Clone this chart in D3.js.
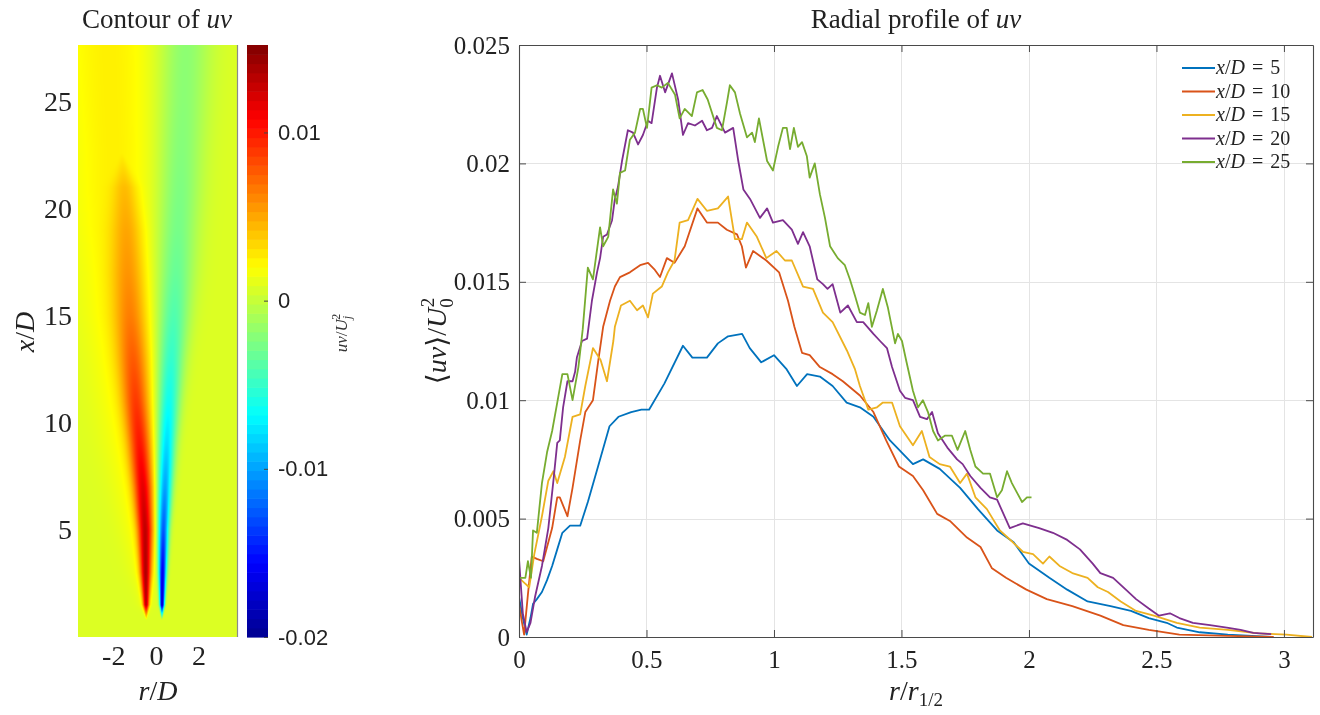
<!DOCTYPE html>
<html><head><meta charset="utf-8">
<script src="https://cdn.jsdelivr.net/npm/d3@7"></script>
<style>
body{margin:0;background:#fff;}
#wrap{position:relative;width:1320px;height:715px;overflow:hidden;background:#fff;}
#wrap canvas{position:absolute;}
#wrap svg{position:absolute;left:0;top:0;}
</style></head><body><div id="wrap"></div>
<script>
// ---------------- Radial profile data: [r/r_1/2, <uv>/U0^2] ----------------
const profile5 = [[0,0.0017],[0.015,0.0008],[0.03,0.0001],[0.045,0.0008],[0.055,0.0014],[0.07,0.0016],[0.09,0.0019],[0.11,0.0024],[0.13,0.003],[0.15,0.0037],[0.17,0.0044],[0.2,0.0047],[0.24,0.0047],[0.27,0.0057],[0.31,0.0072],[0.355,0.0089],[0.39,0.0093],[0.44,0.0095],[0.48,0.0096],[0.51,0.0096],[0.57,0.0107],[0.643,0.0123],[0.68,0.0118],[0.737,0.0118],[0.78,0.0124],[0.82,0.0127],[0.875,0.0128],[0.905,0.0122],[0.95,0.0116],[1.0,0.0119],[1.05,0.0113],[1.09,0.0106],[1.13,0.0111],[1.18,0.011],[1.23,0.0106],[1.285,0.0099],[1.337,0.0097],[1.39,0.0093],[1.455,0.0083],[1.545,0.0073],[1.585,0.0075],[1.65,0.0071],[1.73,0.0063],[1.8,0.0054],[1.875,0.0045],[1.94,0.004],[2.0,0.0031],[2.08,0.0025],[2.15,0.002],[2.23,0.0015],[2.32,0.0013],[2.4,0.0011],[2.47,0.0008],[2.54,0.0006],[2.58,0.0004],[2.67,0.0002],[2.78,0.0001],[2.95,0.0]];
const profile10 = [[0,0.0014],[0.012,0.0006],[0.02,0.0001],[0.035,0.0018],[0.05,0.0034],[0.07,0.0033],[0.095,0.0032],[0.13,0.0046],[0.15,0.0059],[0.16,0.0059],[0.19,0.0051],[0.21,0.0063],[0.24,0.0083],[0.26,0.0095],[0.29,0.01],[0.31,0.0116],[0.33,0.0131],[0.357,0.0142],[0.376,0.0148],[0.396,0.0152],[0.435,0.0154],[0.475,0.0157],[0.506,0.0158],[0.533,0.0155],[0.553,0.0152],[0.58,0.016],[0.61,0.0158],[0.65,0.0165],[0.70,0.0181],[0.737,0.0175],[0.78,0.0175],[0.815,0.0172],[0.855,0.017],[0.874,0.0165],[0.89,0.0156],[0.918,0.0163],[0.97,0.0159],[1.02,0.0154],[1.055,0.0142],[1.08,0.0131],[1.11,0.012],[1.14,0.0119],[1.18,0.0114],[1.23,0.0111],[1.27,0.0108],[1.337,0.0102],[1.39,0.0095],[1.44,0.0083],[1.49,0.0072],[1.545,0.0068],[1.585,0.0062],[1.64,0.0052],[1.69,0.0049],[1.757,0.0042],[1.81,0.0038],[1.855,0.0029],[1.91,0.0025],[1.99,0.002],[2.07,0.0016],[2.17,0.0013],[2.28,0.0009],[2.37,0.0005],[2.47,0.0003],[2.59,0.0001],[2.78,0.00005],[2.96,0.0]];
const profile15 = [[0,0.0025],[0.02,0.0023],[0.04,0.0021],[0.06,0.0035],[0.09,0.0051],[0.115,0.0066],[0.135,0.007],[0.15,0.0065],[0.18,0.0076],[0.21,0.0093],[0.24,0.0094],[0.26,0.0106],[0.29,0.0122],[0.32,0.0117],[0.345,0.0108],[0.37,0.0125],[0.376,0.0131],[0.40,0.014],[0.435,0.0142],[0.463,0.0138],[0.486,0.014],[0.506,0.0135],[0.525,0.0145],[0.56,0.0148],[0.584,0.0154],[0.61,0.0159],[0.63,0.0175],[0.663,0.0176],[0.70,0.0185],[0.737,0.018],[0.78,0.0181],[0.82,0.0186],[0.847,0.0168],[0.874,0.0168],[0.894,0.0175],[0.933,0.0169],[0.97,0.016],[1.01,0.0163],[1.043,0.0159],[1.07,0.0159],[1.114,0.0148],[1.153,0.0147],[1.192,0.0137],[1.23,0.0133],[1.286,0.0121],[1.318,0.0113],[1.337,0.0106],[1.37,0.0096],[1.404,0.0097],[1.427,0.0099],[1.463,0.0099],[1.494,0.0089],[1.545,0.0081],[1.58,0.0087],[1.61,0.0076],[1.65,0.0073],[1.69,0.0072],[1.73,0.0065],[1.757,0.0069],[1.79,0.0059],[1.835,0.0054],[1.886,0.0045],[1.937,0.004],[1.976,0.0036],[2.016,0.0035],[2.055,0.0031],[2.08,0.0034],[2.12,0.003],[2.17,0.0027],[2.23,0.0025],[2.27,0.0021],[2.31,0.0019],[2.36,0.0015],[2.42,0.0011],[2.49,0.0009],[2.58,0.0006],[2.67,0.0004],[2.78,0.0003],[2.9,0.00015],[3.01,0.0001],[3.11,0.0]];
const profile20 = [[0,0.0033],[0.015,0.001],[0.03,0.0002],[0.045,0.0006],[0.063,0.0017],[0.09,0.003],[0.115,0.0046],[0.135,0.0066],[0.15,0.0082],[0.16,0.0083],[0.173,0.0097],[0.19,0.0108],[0.21,0.0108],[0.22,0.0112],[0.227,0.0118],[0.247,0.0125],[0.267,0.0126],[0.286,0.0142],[0.306,0.0154],[0.318,0.016],[0.33,0.0169],[0.345,0.017],[0.365,0.0176],[0.376,0.0185],[0.388,0.019],[0.404,0.0201],[0.427,0.0214],[0.447,0.0213],[0.467,0.0208],[0.486,0.0212],[0.506,0.0218],[0.52,0.0217],[0.541,0.0232],[0.553,0.0237],[0.573,0.023],[0.6,0.0238],[0.624,0.0227],[0.643,0.0212],[0.663,0.0217],[0.69,0.0216],[0.718,0.0218],[0.737,0.0214],[0.757,0.0215],[0.776,0.022],[0.808,0.0213],[0.84,0.0215],[0.86,0.0201],[0.88,0.0189],[0.906,0.0185],[0.945,0.0177],[0.973,0.0181],[0.996,0.0175],[1.035,0.0176],[1.07,0.0172],[1.094,0.0166],[1.114,0.0171],[1.14,0.0165],[1.17,0.0151],[1.192,0.0149],[1.21,0.0147],[1.23,0.0149],[1.26,0.0137],[1.29,0.014],[1.325,0.0133],[1.35,0.0133],[1.39,0.0128],[1.416,0.0125],[1.443,0.0122],[1.463,0.0114],[1.494,0.0104],[1.514,0.0101],[1.545,0.01],[1.573,0.0093],[1.6,0.0092],[1.62,0.0095],[1.643,0.0086],[1.68,0.008],[1.718,0.0075],[1.74,0.0073],[1.77,0.0068],[1.81,0.0063],[1.847,0.0059],[1.875,0.0058],[1.9,0.0052],[1.925,0.0046],[1.976,0.0048],[2.04,0.0046],[2.094,0.0044],[2.15,0.0041],[2.2,0.0037],[2.25,0.0031],[2.28,0.0027],[2.33,0.0025],[2.38,0.002],[2.42,0.0016],[2.47,0.0012],[2.51,0.0009],[2.553,0.001],[2.59,0.0008],[2.643,0.0006],[2.71,0.0005],[2.776,0.0004],[2.83,0.0003],[2.88,0.00017],[2.95,0.00012]];
const profile25 = [[0,0.0025],[0.025,0.0025],[0.035,0.0032],[0.047,0.0025],[0.055,0.0045],[0.07,0.0044],[0.09,0.0065],[0.11,0.0078],[0.13,0.0087],[0.15,0.0099],[0.17,0.0111],[0.19,0.0111],[0.21,0.01],[0.233,0.0114],[0.25,0.013],[0.27,0.0156],[0.29,0.0151],[0.318,0.0173],[0.33,0.0165],[0.35,0.0169],[0.369,0.0189],[0.384,0.0183],[0.396,0.0196],[0.416,0.0197],[0.435,0.021],[0.455,0.0213],[0.475,0.0223],[0.486,0.0223],[0.502,0.0215],[0.52,0.0232],[0.541,0.0233],[0.56,0.0232],[0.584,0.0234],[0.612,0.0229],[0.63,0.0219],[0.65,0.0223],[0.678,0.022],[0.698,0.023],[0.72,0.0231],[0.74,0.0227],[0.776,0.0215],[0.796,0.0214],[0.816,0.0226],[0.827,0.0233],[0.847,0.023],[0.867,0.0221],[0.894,0.0211],[0.914,0.0213],[0.925,0.0209],[0.941,0.0219],[0.957,0.021],[0.973,0.0201],[0.996,0.0197],[1.016,0.0207],[1.035,0.0215],[1.05,0.0215],[1.063,0.0206],[1.078,0.0215],[1.094,0.0207],[1.11,0.0209],[1.129,0.0203],[1.14,0.0194],[1.16,0.02],[1.18,0.0187],[1.2,0.0177],[1.22,0.0165],[1.25,0.016],[1.278,0.0157],[1.298,0.0151],[1.318,0.0144],[1.337,0.0137],[1.357,0.0136],[1.37,0.0141],[1.384,0.0131],[1.404,0.0138],[1.427,0.0147],[1.447,0.0139],[1.475,0.0124],[1.486,0.0128],[1.502,0.0125],[1.52,0.0116],[1.545,0.0104],[1.565,0.0097],[1.584,0.01],[1.604,0.0095],[1.624,0.0087],[1.643,0.0083],[1.67,0.0085],[1.698,0.0085],[1.72,0.0079],[1.75,0.0087],[1.77,0.0079],[1.79,0.0072],[1.82,0.0069],[1.847,0.0069],[1.875,0.0059],[1.894,0.0062],[1.914,0.007],[1.933,0.0065],[1.953,0.0061],[1.973,0.0057],[1.992,0.0059],[2.01,0.0059]];

const seriesNames = ["5","10","15","20","25"];
const seriesColors = ["#0072BD","#D95319","#EDB120","#7E2F8E","#77AC30"];
const profileX = [0,0.5,1,1.5,2,2.5,3];
const profileXLabels = ["0","0.5","1","1.5","2","2.5","3"];
const profileY = [0,0.005,0.01,0.015,0.02,0.025];
const profileYLabels = ["0","0.005","0.01","0.015","0.02","0.025"];

// ---------------- Contour field, described row by row (x/D) ----------------
const fieldBackground = 0.0008;
const rowsXD       = [0.8, 1.5, 3, 5, 7, 9, 11, 13, 15, 17, 19, 21, 22.6, 25, 27.7];
const posPeak      = [0, 0.0115, 0.0118, 0.0112, 0.0098, 0.0082, 0.0068, 0.0055, 0.0042, 0.0034, 0.0027, 0.0019, 0.0, 0, 0];
const posCenter    = [-0.45, -0.46, -0.48, -0.5, -0.6, -0.75, -0.92, -1.05, -1.18, -1.28, -1.35, -1.45, -1.6, -1.7, -1.8];
const posWidth     = [0.02, 0.1, 0.18, 0.25, 0.32, 0.38, 0.44, 0.5, 0.54, 0.55, 0.5, 0.38, 0.04, 0.04, 0.04];
const wedgePeak    = [0, 0.0006, 0.0009, 0.0011, 0.0012, 0.0013, 0.0014, 0.0015, 0.0016, 0.0016, 0.0017, 0.0017, 0.0017, 0.0017, 0.0017];
const wedgeCenter  = [-0.45, -0.5, -0.6, -0.8, -1.0, -1.2, -1.4, -1.55, -1.7, -1.8, -1.9, -2.0, -2.0, -2.1, -2.2];
const wedgeWidth   = [0.05, 0.25, 0.45, 0.6, 0.75, 0.9, 1.0, 1.1, 1.2, 1.3, 1.4, 1.45, 1.5, 1.6, 1.7];
const negPeak      = [0, -0.0185, -0.017, -0.0135, -0.011, -0.009, -0.0073, -0.006, -0.005, -0.0042, -0.0037, -0.0034, -0.0032, -0.003, -0.0029];
const negCenter    = [0.28, 0.29, 0.31, 0.35, 0.42, 0.5, 0.6, 0.7, 0.82, 0.92, 1.0, 1.1, 1.15, 1.25, 1.35];
const negWidth     = [0.02, 0.08, 0.13, 0.18, 0.24, 0.3, 0.37, 0.45, 0.54, 0.62, 0.68, 0.73, 0.77, 0.83, 0.88];

const contourRTicks = [-2, 0, 2];
const contourXTicks = [5, 10, 15, 20, 25];
const colorbarTicks = [-0.02, -0.01, 0, 0.01];
const colorbarLabels = ["-0.02", "-0.01", "0", "0.01"];
const jetStops  = [0, 0.125, 0.375, 0.625, 0.875, 1];
const jetColors = ["#00008f", "#0000ff", "#00ffff", "#ffff00", "#ff0000", "#800000"];

// ---------------- Setup ----------------
const W = 1320, H = 715;
const SERIF = "'Liberation Serif','DejaVu Serif',serif";
const SANS = "'Liberation Sans',Arial,sans-serif";
const wrap = d3.select("#wrap");

// left panel scales
const rScale = d3.scaleLinear().domain([-3.65, 3.8]).range([78, 237]);
const xdScale = d3.scaleLinear().domain([0, 27.65]).range([637, 45]);
const cDomain = [-0.02, 0.0152];
const cScale = d3.scaleLinear().domain(cDomain).range([637, 45]);
const jet = d3.scaleLinear().domain(jetStops).range(jetColors).interpolate(d3.interpolateRgb).clamp(true);
const valueColor = v => jet((v - cDomain[0]) / (cDomain[1] - cDomain[0]));

// ---------------- Contour image (canvas) ----------------
const imgX0 = rScale.range()[0], imgX1 = rScale.range()[1];
const imgY0 = xdScale.range()[1], imgY1 = xdScale.range()[0];
const cw = Math.round(imgX1 - imgX0), ch = Math.round(imgY1 - imgY0);
const canvas = wrap.append("canvas").attr("width", cw).attr("height", ch)
  .style("left", imgX0 + "px").style("top", imgY0 + "px");
const ctx = canvas.node().getContext("2d");
const img = ctx.createImageData(cw, ch);
const rowScale = arr => d3.scaleLinear().domain(rowsXD).range(arr).clamp(true);
const fP = rowScale(posPeak), fPc = rowScale(posCenter), fPw = rowScale(posWidth);
const fB = rowScale(wedgePeak), fBc = rowScale(wedgeCenter), fBw = rowScale(wedgeWidth);
const fN = rowScale(negPeak), fNc = rowScale(negCenter), fNw = rowScale(negWidth);
const g2 = (r, c, s) => Math.exp(-0.5 * ((r - c) / s) * ((r - c) / s));
for (let j = 0; j < ch; j++) {
  const xd = xdScale.invert(imgY0 + j + 0.5);
  for (let i = 0; i < cw; i++) {
    const r = rScale.invert(imgX0 + i + 0.5);
    let v = fieldBackground;
    if (xd >= rowsXD[0]) {
      v += fP(xd) * g2(r, fPc(xd), fPw(xd));
      v += fB(xd) * g2(r, fBc(xd), fBw(xd));
      v += fN(xd) * g2(r, fNc(xd), fNw(xd));
    }
    const c = d3.rgb(valueColor(v));
    const k = (j * cw + i) * 4;
    img.data[k] = c.r; img.data[k+1] = c.g; img.data[k+2] = c.b; img.data[k+3] = 255;
  }
}
ctx.putImageData(img, 0, 0);

const svg = wrap.append("svg").attr("width", W).attr("height", H);

// helper for math-like text
function richText(sel, parts) {
  parts.forEach(p => {
    const t = sel.append("tspan").text(p.t);
    if (p.i) t.attr("font-style", "italic");
    if (p.size) t.attr("font-size", p.size);
    if (p.dy) t.attr("dy", p.dy);
    if (p.dx) t.attr("dx", p.dx);
  });
  return sel;
}

// left panel border (right edge line)
svg.append("line").attr("x1", imgX1 + 0.5).attr("x2", imgX1 + 0.5).attr("y1", imgY0).attr("y2", imgY1)
  .attr("stroke", "#8a8a8a").attr("stroke-width", 1.2);

// left axes
const lAxisY = svg.append("g").attr("transform", `translate(${imgX0},0)`)
  .call(d3.axisLeft(xdScale).tickValues(contourXTicks).tickSize(0).tickPadding(6).tickFormat(d3.format("d")));
const lAxisX = svg.append("g").attr("transform", `translate(0,${imgY1})`)
  .call(d3.axisBottom(rScale).tickValues(contourRTicks).tickSize(0).tickPadding(8).tickFormat(d3.format("d")));
[lAxisY, lAxisX].forEach(a => {
  a.select(".domain").remove();
  a.selectAll("text").attr("font-family", SERIF).attr("font-size", 28).attr("fill", "#222");
});
lAxisX.selectAll("text").text(d => d < 0 ? "-" + Math.abs(d) : d);

// left title and labels
richText(svg.append("text").attr("x", 157).attr("y", 28).attr("text-anchor", "middle")
  .attr("font-family", SERIF).attr("font-size", 27).attr("fill", "#222"),
  [{t: "Contour of "}, {t: "uv", i: true}]);
richText(svg.append("text").attr("x", 158).attr("y", 700).attr("text-anchor", "middle")
  .attr("font-family", SERIF).attr("font-size", 28).attr("fill", "#222"),
  [{t: "r", i: true}, {t: "/"}, {t: "D", i: true}]);
richText(svg.append("text").attr("transform", "translate(34,332) rotate(-90)").attr("text-anchor", "middle")
  .attr("font-family", SERIF).attr("font-size", 28).attr("fill", "#222"),
  [{t: "x", i: true}, {t: "/"}, {t: "D", i: true}]);

// colorbar
const cbX = 247, cbW = 21;
const nBands = 64;
const bandVals = d3.range(nBands).map(k => cDomain[0] + (k + 0.5) * (cDomain[1] - cDomain[0]) / nBands);
const bandH = (cDomain[1] - cDomain[0]) / nBands;
svg.append("g").selectAll("rect").data(bandVals).join("rect")
  .attr("x", cbX).attr("width", cbW)
  .attr("y", d => cScale(d + bandH / 2))
  .attr("height", d => cScale(d - bandH / 2) - cScale(d + bandH / 2) + 0.6)
  .attr("fill", d => valueColor(d));
const cAxis = svg.append("g").attr("transform", `translate(${cbX + cbW},0)`)
  .call(d3.axisRight(cScale).tickValues(colorbarTicks).tickSize(-4).tickSizeOuter(0).tickPadding(10)
    .tickFormat((d, i) => colorbarLabels[i]));
cAxis.select(".domain").remove();
cAxis.selectAll("line").attr("stroke", "#444");
cAxis.selectAll("text").attr("font-family", SANS).attr("font-size", 22).attr("fill", "#222");
richText(svg.append("text").attr("transform", "translate(347,333) rotate(-90)").attr("text-anchor", "middle")
  .attr("font-family", SERIF).attr("font-size", 17).attr("fill", "#333"),
  [{t: "uv", i: true}, {t: "/"}, {t: "U", i: true}, {t: "j", i: true, size: 12, dy: 4}, {t: "2", size: 12, dx: -4, dy: -11}]);

// ---------------- Right plot ----------------
const x = d3.scaleLinear().domain([0, 3.114]).range([519, 1313]);
const y = d3.scaleLinear().domain([0, 0.025]).range([637, 45]);
const [px0, px1] = x.range(), [py1, py0] = y.range();

// grid
const grid = svg.append("g").attr("stroke", "#e4e4e4").attr("stroke-width", 1);
grid.selectAll(".gx").data(profileX).join("line")
  .attr("x1", d => Math.round(x(d)) + 0.5).attr("x2", d => Math.round(x(d)) + 0.5)
  .attr("y1", py0).attr("y2", py1);
grid.selectAll(".gy").data(profileY).join("line")
  .attr("y1", d => Math.round(y(d)) + 0.5).attr("y2", d => Math.round(y(d)) + 0.5)
  .attr("x1", px0).attr("x2", px1);

// lines
svg.append("clipPath").attr("id", "clipR").append("rect")
  .attr("x", px0).attr("y", py0).attr("width", px1 - px0).attr("height", py1 - py0 + 1);
const line = d3.line().x(d => x(d[0])).y(d => y(d[1]));
const allProfiles = [profile5, profile10, profile15, profile20, profile25];
svg.append("g").attr("clip-path", "url(#clipR)").selectAll("path").data(allProfiles).join("path")
  .attr("d", line).attr("fill", "none")
  .attr("stroke", (d, i) => seriesColors[i]).attr("stroke-width", 1.8).attr("stroke-linejoin", "round");

// axes (box with inward ticks)
const tk = 7;
const axB = svg.append("g").attr("transform", `translate(0,${py1})`)
  .call(d3.axisBottom(x).tickValues(profileX).tickSize(-tk).tickSizeOuter(0).tickPadding(13)
    .tickFormat((d, i) => profileXLabels[i]));
const axL = svg.append("g").attr("transform", `translate(${px0},0)`)
  .call(d3.axisLeft(y).tickValues(profileY).tickSize(-tk).tickSizeOuter(0).tickPadding(9)
    .tickFormat((d, i) => profileYLabels[i]));
const axT = svg.append("g").attr("transform", `translate(0,${py0})`)
  .call(d3.axisTop(x).tickValues(profileX).tickSize(-tk).tickSizeOuter(0).tickFormat(""));
const axR = svg.append("g").attr("transform", `translate(${px1},0)`)
  .call(d3.axisRight(y).tickValues(profileY).tickSize(-tk).tickSizeOuter(0).tickFormat(""));
[axB, axL, axT, axR].forEach(a => {
  a.select(".domain").attr("stroke", "#4a4a4a").attr("stroke-width", 1.1);
  a.selectAll(".tick line").attr("stroke", "#4a4a4a");
  a.selectAll("text").attr("font-family", SERIF).attr("font-size", 25).attr("fill", "#222");
});

// titles / labels
richText(svg.append("text").attr("x", (px0 + px1) / 2).attr("y", 28).attr("text-anchor", "middle")
  .attr("font-family", SERIF).attr("font-size", 27).attr("fill", "#222"),
  [{t: "Radial profile of "}, {t: "uv", i: true}]);
richText(svg.append("text").attr("x", (px0 + px1) / 2).attr("y", 700).attr("text-anchor", "middle")
  .attr("font-family", SERIF).attr("font-size", 28).attr("fill", "#222"),
  [{t: "r", i: true}, {t: "/"}, {t: "r", i: true}, {t: "1/2", size: 19, dy: 6}]);
richText(svg.append("text").attr("transform", "translate(446,341) rotate(-90)").attr("text-anchor", "middle")
  .attr("font-family", SERIF).attr("font-size", 28).attr("fill", "#222"),
  [{t: "\u27E8"}, {t: "uv", i: true}, {t: "\u27E9/"}, {t: "U", i: true}, {t: "0", size: 19, dy: 7}, {t: "2", size: 19, dx: -9, dy: -19}]);

// legend
const leg = svg.append("g").selectAll("g").data(seriesNames).join("g")
  .attr("transform", (d, i) => `translate(1182,${68 + i * 23.5})`);
leg.append("line").attr("x1", 0).attr("x2", 33).attr("y1", 0).attr("y2", 0)
  .attr("stroke", (d, i) => seriesColors[i]).attr("stroke-width", 1.8);
leg.each(function(d) {
  richText(d3.select(this).append("text").attr("x", 34).attr("y", 6)
    .attr("font-family", SERIF).attr("font-size", 20).attr("fill", "#222"),
    [{t: "x", i: true}, {t: "/"}, {t: "D", i: true}, {t: " = ", dx: 2}, {t: d, dx: 2}]);
});
</script></body></html>
